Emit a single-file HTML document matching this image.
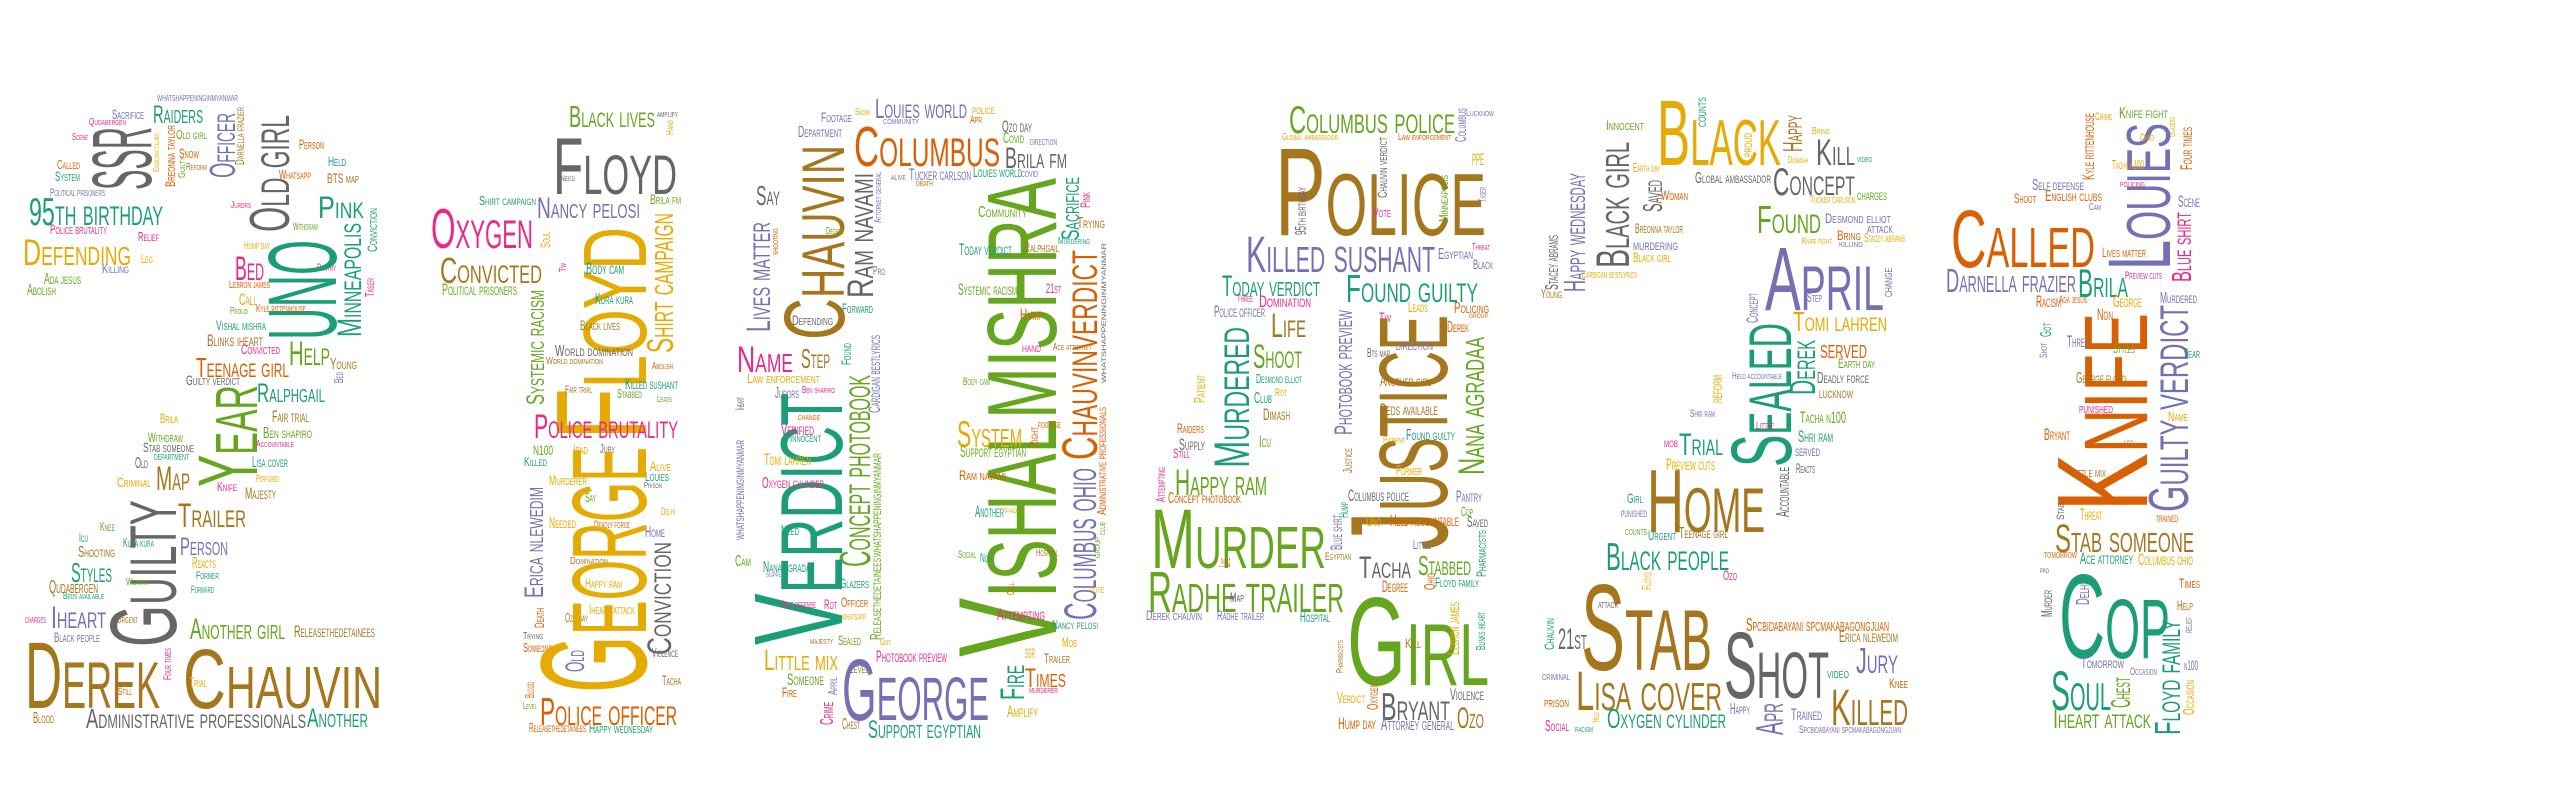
<!DOCTYPE html>
<html><head><meta charset="utf-8">
<style>
html,body{margin:0;padding:0;background:#fff;}
#cloud{position:absolute;left:0;top:0;width:2560px;height:800px;}
svg text{font-family:"Liberation Sans Narrow","Liberation Sans",sans-serif;font-variant:small-caps;}
</style></head>
<body>
<svg id="cloud" width="2560" height="800" viewBox="0 0 2560 800" xmlns="http://www.w3.org/2000/svg"></svg>
<script>
const palette={t:"#1b9e77",o:"#d95f02",p:"#7570b3",k:"#e7298a",g:"#66a61e",y:"#e6ab02",b:"#a6761d",a:"#666666"};
// [word, x0, y0, x1, y1, vertical, colour]
const words=[
["SSR",90,127,151,190,1,"a"],["Raiders",153,105,203,123,0,"t"],["Officer",209,113,235,178,1,"p"],["Darnella frazier",235,107,244,165,1,"b"],["Breonna taylor",165,125,175,187,1,"o"],["English clubs",153,133,159,172,1,"y"],["Old girl",176,130,207,139,0,"g"],["Snow",179,148,199,158,0,"o"],["Guilty",178,157,185,178,1,"g"],["Reform",186,163,207,170,0,"b"],["Old girl",248,115,289,232,1,"a"],["Sacrifice",112,109,144,119,0,"p"],["Qudabergen",89,118,126,125,0,"k"],["Scene",72,133,88,140,0,"k"],["Called",57,160,80,169,0,"o"],["System",55,171,80,181,0,"t"],["Political prisoners",50,188,105,196,0,"p"],["whatshappeninginmyanmar",157,93,238,101,0,"p"],["Person",299,139,324,149,0,"o"],["Held",328,156,346,166,0,"t"],["Whatsapp",279,170,311,179,0,"o"],["BTS map",327,173,359,183,0,"b"],["95th birthday",29,197,163,225,0,"t"],["Police brutality",50,224,107,234,0,"k"],["Relief",138,232,159,241,0,"k"],["Jurors",231,201,251,208,0,"k"],["Withdraw",293,222,318,230,0,"g"],["Defending",23,238,131,265,0,"y"],["Leg",141,254,153,263,0,"y"],["Killing",102,264,129,273,0,"p"],["Ada jesus",44,273,81,284,0,"g"],["Abolish",27,284,56,295,0,"g"],["Hump day",244,241,270,249,0,"y"],["Pink",318,195,364,218,0,"t"],["Conviction",367,208,377,252,1,"t"],["Bed",235,255,264,280,0,"k"],["Pantry",317,263,336,271,0,"k"],["Lebron james",229,280,270,288,0,"o"],["Taser",365,278,374,297,1,"k"],["UNO",266,240,336,340,1,"t"],["Minneapolis",336,223,361,337,1,"t"],["Call",239,293,257,305,0,"y"],["Proud",230,307,248,314,0,"g"],["Kyle rittenhouse",256,304,306,312,0,"o"],["Vishal mishra",216,320,266,330,0,"t"],["Blinks iheart",207,334,263,346,0,"b"],["Convicted",241,344,280,354,0,"k"],["Help",289,340,330,365,0,"g"],["Young",330,358,357,369,0,"b"],["Teenage girl",196,357,289,377,0,"o"],["Guilty verdict",186,375,240,385,0,"a"],["Bed",334,372,343,383,1,"p"],["Ralphgail",257,383,325,402,0,"t"],
["Year",196,385,257,487,1,"g"],["Brila",160,413,178,423,0,"y"],["Fair trial",272,410,309,422,0,"b"],["Ben shapiro",263,427,312,438,0,"g"],["Withdraw",148,432,183,442,0,"g"],["Stab someone",143,442,194,452,0,"a"],["Accountable",256,440,294,447,0,"k"],["department",154,452,189,460,0,"t"],["Lisa cover",252,456,288,467,0,"t"],["Old",135,457,148,468,0,"a"],
["Map",156,465,190,490,0,"b"],["Criminal",117,477,151,487,0,"y"],["Knife",217,482,237,491,0,"k"],["Perfumed",256,474,279,482,0,"y"],["Majesty",245,487,276,499,0,"b"],["Guilty",108,500,176,647,1,"a"],["Trailer",178,502,246,527,0,"b"],["Knee",100,522,115,531,0,"g"],["Icu",79,533,88,542,0,"t"],["Kura kura",123,538,154,547,0,"t"],["Shooting",78,546,115,557,0,"b"],["Person",180,537,228,555,0,"p"],["Reacts",192,557,216,568,0,"y"],["Styles",71,562,112,582,0,"t"],["Former",196,571,219,579,0,"t"],["Woman",126,578,148,585,0,"g"],["Qudabergen",49,580,98,593,0,"b"],["Beds available",63,592,104,599,0,"t"],["Forward",191,585,214,593,0,"t"],["charges",25,615,46,623,0,"k"],["Iheart",51,605,106,628,0,"p"],["Urgent",117,615,138,623,0,"b"],["Black people",54,632,100,642,0,"p"],["Another girl",190,618,285,639,0,"g"],["Releasethedetainees",294,625,375,637,0,"b"],["Derek",25,640,160,708,0,"b"],["Chauvin",183,647,382,708,0,"b"],["Four times",163,648,171,680,1,"k"],["Trial",189,677,207,687,0,"y"],["Still",118,687,132,695,0,"o"],["Blood",33,712,54,723,0,"b"],["Administrative professionals",86,708,306,728,0,"a"],["Another",307,708,368,727,0,"t"],
["Black lives",569,105,655,127,0,"g"],["amplify",657,110,678,117,0,"a"],["Hand",666,120,673,135,1,"y"],["Floyd",553,136,677,194,0,"a"],["Need",560,175,575,181,0,"a"],["Shirt campaign",479,196,536,205,0,"t"],["Nancy pelosi",537,197,640,218,0,"p"],["Brila fm",650,194,681,204,0,"g"],["Oxygen",431,207,533,248,0,"k"],["Soul",540,232,550,248,1,"y"],["Floyd",553,227,646,440,1,"y"],["Shirt campaign",646,213,673,353,1,"y"],["Convicted",440,257,542,283,0,"b"],["Political prisoners",442,283,517,295,0,"g"],["Tw",559,263,566,272,1,"k"],["Body cam",586,262,624,274,0,"t"],["Kura kura",595,293,633,304,0,"t"],["Systemic racism",526,290,544,405,1,"g"],["Black lives",580,320,620,330,0,"b"],["World domination",555,345,633,356,0,"a"],["World domination",546,357,603,364,0,"b"],["Abolish",652,362,673,369,0,"o"],["Fair trial",565,385,592,393,0,"b"],["Killed sushant",625,378,678,389,0,"t"],["Stabbed",617,389,642,398,0,"g"],["Leads",657,395,672,402,0,"g"],["Police brutality",534,413,678,438,0,"k"],
["N100",533,445,553,455,0,"g"],["Killed",524,457,547,466,0,"t"],["Ipad",573,444,588,454,0,"y"],["Jury",600,444,615,453,0,"a"],["Alive",650,461,671,471,0,"y"],["Louies",645,471,669,481,0,"t"],["Prison",644,482,662,488,0,"a"],["Murderer",549,475,587,485,0,"y"],["Say",585,492,596,502,0,"g"],["Erica nlewedim",524,487,543,598,1,"p"],["Delhi",661,507,675,515,0,"y"],["Needed",549,517,576,528,0,"y"],["Deadly force",594,520,630,528,0,"o"],["Home",645,526,665,537,0,"p"],["Conviction",646,542,671,655,1,"a"],["Domination",570,557,608,564,0,"b"],["Happy ram",585,578,622,588,0,"y"],["Iheart attack",589,604,635,614,0,"y"],["Death",534,608,544,628,1,"o"],["Ozo day",565,613,588,622,0,"b"],["Trying",523,632,543,639,0,"a"],["Someone",523,643,552,652,0,"o"],["Old",565,650,584,672,1,"p"],["Violence",652,648,678,657,0,"a"],["Tacha",662,675,681,685,0,"b"],["Blood",525,682,534,698,1,"o"],["Level",523,702,537,709,0,"g"],["George",537,447,646,693,1,"y"],["Police officer",540,697,677,725,0,"o"],["Releasethedetainees",529,723,586,732,0,"o"],["Happy wednesday",589,723,653,733,0,"t"],
["Footage",821,112,852,122,0,"p"],["Snow",855,108,870,115,0,"y"],["Louies world",875,98,967,118,0,"p"],["community",883,117,919,124,0,"p"],["police",972,105,995,114,0,"y"],["Apr",970,115,982,123,0,"o"],["Ozo day",1002,120,1032,132,0,"a"],["Covid",1003,132,1024,143,0,"g"],["direction",1030,137,1057,145,0,"p"],["Department",798,126,842,137,0,"p"],["Columbus",854,125,1000,166,0,"o"],["Brila fm",1005,147,1067,168,0,"a"],["Chauvin",782,145,844,340,1,"b"],["Ram navami",846,173,873,298,1,"a"],["Attorney general",874,172,881,223,1,"p"],["alive",891,173,906,180,0,"p"],["Tucker carlson",909,168,971,180,0,"p"],["death",916,179,933,186,0,"o"],["Louies world",973,166,1022,177,0,"t"],["covid",1021,169,1038,177,0,"p"],["Say",756,185,780,205,0,"a"],["Lives matter",745,222,770,332,1,"p"],["shooting",771,228,778,255,1,"o"],["Degree",826,227,844,234,0,"g"],["Pro",873,266,885,275,0,"p"],["Forward",842,303,873,313,0,"t"],["Defending",792,315,833,325,0,"a"],["Vishalmishra",955,178,1056,657,1,"g"],["Community",978,206,1027,217,0,"g"],["Sacrifice",1061,177,1079,240,1,"t"],["Pink",1080,192,1090,208,1,"k"],["Trying",1077,217,1105,228,0,"b"],["Murdering",1058,237,1090,244,0,"t"],["Today verdict",959,243,1012,255,0,"t"],["Ralphgail",1024,242,1059,252,0,"b"],["Chauvinverdict",1061,250,1097,460,1,"o"],["whatshappeninginmyanmar",1100,243,1106,383,1,"a"],["Systemic racism",958,283,1017,295,0,"g"],["21st",1046,283,1061,293,0,"k"],["Hump",1020,308,1043,320,0,"o"],["Name",737,345,793,372,0,"k"],["Step",801,348,830,368,0,"b"],["Found",841,343,851,365,1,"t"],["hand",1022,343,1041,352,0,"k"],["Ace attorney",1053,343,1092,350,0,"b"],["Law enforcement",747,373,820,383,0,"y"],["Jurors",775,387,799,398,0,"p"],["Ben shapiro",802,386,835,393,0,"k"],["Concept photobook",839,375,870,567,1,"g"],["Cardigan bestlyrics",868,335,880,413,1,"p"],["Body cam",963,377,990,385,0,"g"],["Verdict",751,393,842,645,1,"t"],["Iheart",735,397,744,410,1,"a"],["change",798,413,820,420,0,"o"],["Verified",781,423,814,435,0,"k"],["Innocent",790,433,821,442,0,"t"],["System",957,420,1022,447,0,"y"],["Right",1029,427,1038,447,1,"o"],["footage",1038,420,1061,428,0,"o"],["Support egyptian",960,445,1026,457,0,"g"],["Tomi lahren",764,453,811,465,0,"y"],["Administrative professionals",1097,407,1106,515,1,"o"],
["whatshappeninginmyanmar",733,440,744,540,1,"p"],["Oxygen cylinder",762,477,824,488,0,"k"],["Need",781,525,799,535,0,"t"],["whatshappeninginmyanmar",870,453,881,557,1,"g"],["Cam",735,555,751,566,0,"g"],["Nana agradaa",763,561,814,572,0,"t"],["supply",766,571,784,577,0,"p"],["Glazers",840,578,869,588,0,"t"],["Releasethedetainees",870,558,881,640,1,"g"],["Self defense",781,600,816,608,0,"k"],["Rot",824,599,837,609,0,"k"],["Officer",841,597,868,607,0,"o"],["whatsapp",842,612,866,620,0,"y"],["majesty",810,637,833,644,0,"b"],["Sealed",838,635,861,645,0,"g"],["Got",880,638,891,645,0,"y"],["Little mix",764,649,838,670,0,"y"],["Level",849,663,869,673,0,"b"],["George",842,657,989,720,0,"p"],["Someone",787,673,824,685,0,"g"],["April",828,677,837,695,1,"p"],["Fire",782,687,797,697,0,"o"],["Crime",820,702,833,725,1,"k"],["Chest",842,718,860,729,0,"b"],["Support egyptian",868,720,981,738,0,"t"],["Photobook preview",876,650,947,662,0,"k"],["SSR",1025,648,1035,658,0,"y"],["Trailer",1044,653,1070,663,0,"b"],["Fire",999,665,1024,700,1,"t"],["Times",1025,668,1066,687,0,"o"],["murderer",1029,686,1058,693,0,"k"],["Amplify",1007,705,1038,717,0,"y"],["Ram navami",959,470,1006,480,0,"o"],["Another",975,505,1004,517,0,"t"],["Ipad",1004,507,1017,513,0,"y"],["Social",958,550,976,558,0,"g"],["Non",980,553,992,562,0,"t"],["Hospital",1036,548,1058,556,0,"b"],["Call",1007,583,1014,595,1,"o"],["Attempting",997,608,1045,620,0,"k"],["Nancy pelosi",1052,620,1098,629,0,"t"],["Mob",1062,637,1077,647,0,"y"],["Columbus ohio",1063,468,1096,620,1,"p"],["club",1098,522,1105,535,1,"g"],["group",1093,537,1100,558,1,"g"],["vote",1090,585,1104,593,0,"y"],
["Columbus police",1289,105,1455,133,0,"g"],["Columbus",1455,108,1466,142,1,"p"],["Lucknow",1466,109,1494,116,0,"p"],["Global ambassador",1282,133,1338,140,0,"y"],["Law enforcement",1398,133,1451,140,0,"o"],["Chauvin verdict",1377,137,1387,198,1,"a"],["Police",1275,145,1486,235,0,"b"],["PPE",1472,153,1484,165,0,"y"],["95th birthday",1295,187,1306,235,1,"a"],["Minneapolis",1439,175,1448,222,1,"g"],["Vote",1373,207,1391,217,0,"k"],["Taser",1478,187,1486,202,1,"p"],["Killed sushant",1246,235,1435,272,0,"p"],["Egyptian",1438,248,1473,259,0,"p"],["Threat",1472,243,1490,250,0,"k"],["Black",1473,259,1493,269,0,"p"],["Today verdict",1222,275,1320,296,0,"t"],["Found guilty",1346,274,1478,302,0,"t"],["Three",1237,294,1253,302,0,"k"],["Domination",1259,295,1311,307,0,"k"],["Police officer",1214,305,1265,317,0,"p"],["Life",1271,312,1306,337,0,"b"],["Leads",1408,301,1428,312,0,"y"],["Policing",1454,302,1489,313,0,"o"],["group",1469,312,1488,318,0,"o"],["Tw",1379,312,1391,322,0,"k"],["Justice",1347,315,1447,550,1,"b"],["Derek",1447,321,1469,332,0,"o"],["Murdered",1213,327,1249,468,1,"t"],["Shoot",1253,343,1302,368,0,"g"],["Photobook preview",1334,310,1352,435,1,"p"],["direction",1396,339,1433,350,0,"p"],["Bts map",1367,348,1390,357,0,"a"],["Nana agradaa",1457,337,1484,475,1,"g"],["Desmond elliot",1256,374,1302,383,0,"t"],["Club",1254,392,1272,403,0,"t"],["Rot",1275,388,1287,396,0,"y"],["Dimash",1263,408,1290,420,0,"b"],["Patient",1194,375,1205,403,1,"y"],["Another girl",1380,375,1431,386,0,"b"],["Beds available",1380,403,1438,415,0,"b"],["Raiders",1177,423,1204,433,0,"o"],["Supply",1179,438,1205,450,0,"a"],["Still",1173,448,1190,458,0,"k"],["Icu",1259,435,1271,447,0,"g"],["Found guilty",1406,429,1455,440,0,"t"],["Patient",1383,436,1405,443,0,"y"],["Justice",1343,448,1352,473,1,"b"],
["Attempting",1156,467,1165,502,1,"k"],["Happy ram",1175,468,1267,495,0,"g"],["Concept photobook",1168,492,1241,503,0,"o"],["Former",1396,465,1422,475,0,"y"],["Columbus police",1348,489,1409,501,0,"a"],["Pantry",1456,490,1482,502,0,"p"],["Hump",1339,502,1348,518,1,"t"],["Cop",1461,506,1473,516,0,"g"],["Uno",1366,516,1381,526,0,"y"],["Held accountable",1390,514,1459,526,0,"o"],["Saved",1467,516,1488,527,0,"a"],["Blue shirt",1330,515,1342,550,1,"p"],["Little",1413,539,1431,549,0,"p"],["Pharmacists",1476,530,1486,577,1,"t"],["Murder",1151,507,1326,568,0,"g"],["Life",1218,558,1230,567,1,"o"],["Egyptian",1325,552,1351,560,0,"b"],["Tacha",1359,555,1411,578,0,"a"],["Stabbed",1418,555,1471,575,0,"g"],["Ohio",1424,573,1435,590,1,"o"],["Floyd family",1435,577,1479,587,0,"t"],["Degree",1382,580,1408,592,0,"o"],["Radhe trailer",1148,570,1344,612,0,"g"],["Map",1230,592,1244,602,0,"a"],["Derek chauvin",1146,610,1202,620,0,"p"],["Radhe trailer",1217,610,1264,620,0,"p"],["Hospital",1300,611,1330,622,0,"t"],["Girl",1347,595,1489,685,0,"g"],["Lebron james",1447,602,1459,655,1,"y"],["Blinks iheart",1476,612,1485,650,1,"t"],["Kill",1405,638,1421,648,0,"b"],["Pharmacists",1336,640,1343,673,1,"b"],["Verdict",1337,692,1365,703,0,"y"],["Oxygen",1367,683,1378,710,1,"o"],["Bryant",1381,692,1450,720,0,"a"],["Violence",1450,688,1484,700,0,"a"],["Hump day",1338,717,1376,729,0,"o"],["Attorney general",1381,717,1454,730,0,"p"],["Ozo",1457,707,1484,728,0,"b"],
["Black",1657,98,1781,165,0,"y"],["counts",1695,97,1706,127,1,"t"],["proud",1741,133,1752,157,1,"y"],["Innocent",1606,120,1644,130,0,"g"],["Happy",1782,115,1802,152,1,"b"],["Bring",1812,127,1830,134,0,"y"],["Kill",1816,138,1855,165,0,"a"],["video",1857,155,1872,162,0,"t"],["Domash",1788,156,1808,163,0,"y"],["Black girl",1595,142,1629,268,1,"a"],["Earth day",1633,163,1660,172,0,"y"],["Global ambassador",1695,172,1771,183,0,"a"],["Concept",1773,167,1855,195,0,"a"],["Saved",1642,180,1662,212,1,"a"],["Woman",1661,190,1688,200,0,"o"],["charges",1857,189,1887,200,0,"g"],["Tucker carlson",1810,195,1855,203,0,"y"],["Happy wednesday",1563,173,1585,292,1,"p"],["Found",1757,205,1821,233,0,"g"],["Desmond elliot",1825,213,1891,223,0,"p"],["Breonna taylor",1635,223,1683,233,0,"b"],["attack",1867,223,1893,233,0,"p"],["Bring",1837,230,1861,240,0,"o"],["Stacey abrams",1864,233,1905,242,0,"y"],["Knife fight",1802,237,1832,244,0,"y"],["killing",1839,240,1863,247,0,"p"],["murdering",1633,239,1678,250,0,"p"],["Black girl",1633,252,1671,262,0,"y"],["Cardigan bestlyrics",1582,270,1637,278,0,"y"],["Stacey abrams",1545,235,1558,290,1,"a"],["Young",1541,289,1562,298,0,"b"],["April",1765,245,1884,310,0,"p"],["Step",1807,292,1822,302,0,"p"],["change",1882,268,1892,297,1,"p"],["Concept",1746,293,1758,323,1,"p"],["Tomi lahren",1793,311,1887,331,0,"y"],["Sealed",1729,323,1791,467,1,"t"],["Derek",1789,340,1815,395,1,"t"],["served",1820,339,1867,358,0,"o"],["Earth day",1838,358,1875,368,0,"g"],["Held accountable",1732,372,1782,379,0,"p"],["Deadly force",1817,372,1869,383,0,"a"],["reform",1710,375,1722,403,1,"y"],["lucknow",1819,387,1853,398,0,"b"],["Shri ram",1690,409,1715,417,0,"p"],["Tacha n100",1800,411,1846,423,0,"g"],["Little",1756,421,1774,429,0,"k"],["Shri ram",1798,430,1833,442,0,"t"],["mob",1664,438,1678,447,0,"k"],["Trial",1679,432,1723,455,0,"t"],["served",1795,445,1820,456,0,"p"],["Preview cuts",1666,458,1715,470,0,"y"],
["Reacts",1796,463,1815,473,0,"a"],["Home",1647,467,1765,532,0,"b"],["Accountable",1776,467,1789,517,1,"a"],["Girl",1627,493,1643,503,0,"t"],["punished",1621,508,1647,517,0,"p"],["counts",1625,527,1647,535,0,"g"],["Urgent",1648,530,1676,540,0,"t"],["Teenage girl",1679,527,1728,538,0,"b"],["Black people",1606,542,1729,570,0,"t"],["Ozo",1723,570,1737,580,0,"k"],["Floyd",1642,572,1651,590,1,"y"],["Stab",1581,582,1712,670,0,"b"],["attack",1598,600,1618,608,0,"a"],["Chauvin",1544,618,1554,650,1,"t"],["21st",1558,628,1587,649,0,"a"],["Spcbidabayani spcmakabagongjuan",1746,618,1889,631,0,"o"],["Erica nlewedim",1839,630,1898,642,0,"b"],["Shot",1724,630,1829,698,0,"a"],["Jury",1856,647,1898,673,0,"p"],["criminal",1542,672,1570,680,0,"p"],["Lisa cover",1576,670,1722,710,0,"b"],["video",1827,668,1849,678,0,"t"],["Knee",1889,678,1908,688,0,"o"],["prison",1544,697,1569,707,0,"o"],["Happy",1730,703,1750,714,0,"p"],["Apr",1755,703,1783,735,1,"p"],["Killed",1831,688,1908,725,0,"b"],["Trained",1791,708,1822,720,0,"p"],["Oxygen cylinder",1607,708,1726,728,0,"t"],["Social",1545,720,1569,731,0,"k"],["Held",1592,712,1599,722,1,"y"],["racism",1575,725,1593,732,0,"t"],["Spcbidabayani spcmakabagongjuan",1799,725,1901,733,0,"p"],
["Kyle rittenhouse",2082,113,2094,180,1,"o"],["Crime",2095,112,2112,120,0,"y"],["Knife fight",2119,107,2168,118,0,"g"],["Glazers",2168,117,2175,137,1,"y"],["Louies",2106,123,2170,270,1,"p"],["Ohio",2140,133,2154,141,0,"y"],["Four times",2180,127,2192,170,1,"o"],["Tacha n100",2112,160,2144,169,0,"y"],["policing",2120,180,2145,187,0,"k"],["Self defense",2032,179,2084,190,0,"p"],["Shoot",2014,193,2036,203,0,"o"],["English clubs",2045,190,2102,201,0,"o"],["Cam",2089,203,2101,210,0,"p"],["Scene",2178,195,2200,207,0,"p"],["Called",1951,208,2095,267,0,"o"],["Blue shirt",2171,212,2191,282,1,"k"],["Lives matter",2102,247,2146,257,0,"o"],["Darnella frazier",1946,268,2076,292,0,"p"],["Brila",2078,268,2128,297,0,"t"],["Preview cuts",2125,271,2162,279,0,"k"],["Racism",2036,295,2061,307,0,"o"],["Ada jesus",2059,295,2087,303,0,"o"],["George",2113,295,2142,307,0,"y"],["Murdered",2160,292,2197,303,0,"p"],["Non",2097,308,2113,320,0,"o"],["Got",2040,323,2051,337,1,"t"],["Knife",2054,313,2147,512,1,"o"],["Guilty verdict",2147,305,2188,512,1,"p"],["Three",2067,335,2089,347,0,"p"],["Styles",2113,343,2135,353,0,"g"],["Shot",2039,343,2047,358,1,"p"],["Year",2183,348,2200,358,0,"t"],["George floyd",2076,372,2126,383,0,"b"],["punished",2079,403,2113,413,0,"k"],["Name",2168,411,2188,421,0,"y"],["Bryant",2044,428,2070,440,0,"o"],["leg",2124,438,2134,447,0,"o"],["Little mix",2071,467,2106,477,0,"b"],["Stab",2056,503,2064,520,1,"a"],["Threat",2080,508,2102,520,0,"y"],["trained",2156,513,2178,522,0,"o"],["Stab someone",2055,523,2194,552,0,"b"],["tomorrow",2044,550,2077,558,0,"o"],["Ace attorney",2080,552,2133,564,0,"t"],["Columbus ohio",2138,553,2193,565,0,"y"],["pro",2040,567,2049,573,0,"a"],["Cop",2059,572,2170,658,0,"t"],["Murder",2041,590,2052,617,1,"a"],["Delhi",2076,583,2089,605,1,"p"],["Times",2179,578,2200,588,0,"o"],["Help",2177,600,2193,610,0,"o"],["relief",2184,617,2192,633,1,"p"],["Floyd family",2154,620,2180,735,1,"t"],["Tomorrow",2081,657,2124,668,0,"p"],["Occasion",2130,667,2157,675,0,"p"],["n100",2184,660,2198,670,0,"p"],["Soul",2051,670,2111,710,0,"t"],["Chest",2110,677,2130,708,1,"g"],["Occasion",2183,680,2194,715,1,"y"],["Iheart attack",2053,708,2151,728,0,"g"]
];
const svg=document.getElementById('cloud');
const NS="http://www.w3.org/2000/svg";
const CAP=0.72;
words.forEach(function(w){
  const t=document.createElementNS(NS,'text');
  const x0=w[1],y0=w[2],x1=w[3],y1=w[4],vert=w[5];
  const bw=x1-x0,bh=y1-y0;
  const len=vert?bh:bw, thick=vert?bw:bh;
  t.setAttribute('font-size',(thick/CAP).toFixed(1));
  t.setAttribute('fill',palette[w[6]]);
  t.setAttribute('textLength',len);
  t.setAttribute('lengthAdjust','spacingAndGlyphs');
  t.setAttribute('x',0);t.setAttribute('y',0);
  if(vert){t.setAttribute('transform','translate('+x1+','+y1+') rotate(-90)');}
  else{t.setAttribute('transform','translate('+x0+','+y1+')');}
  t.textContent=w[0];
  
  
  svg.appendChild(t);
});
</script>
</body></html>
